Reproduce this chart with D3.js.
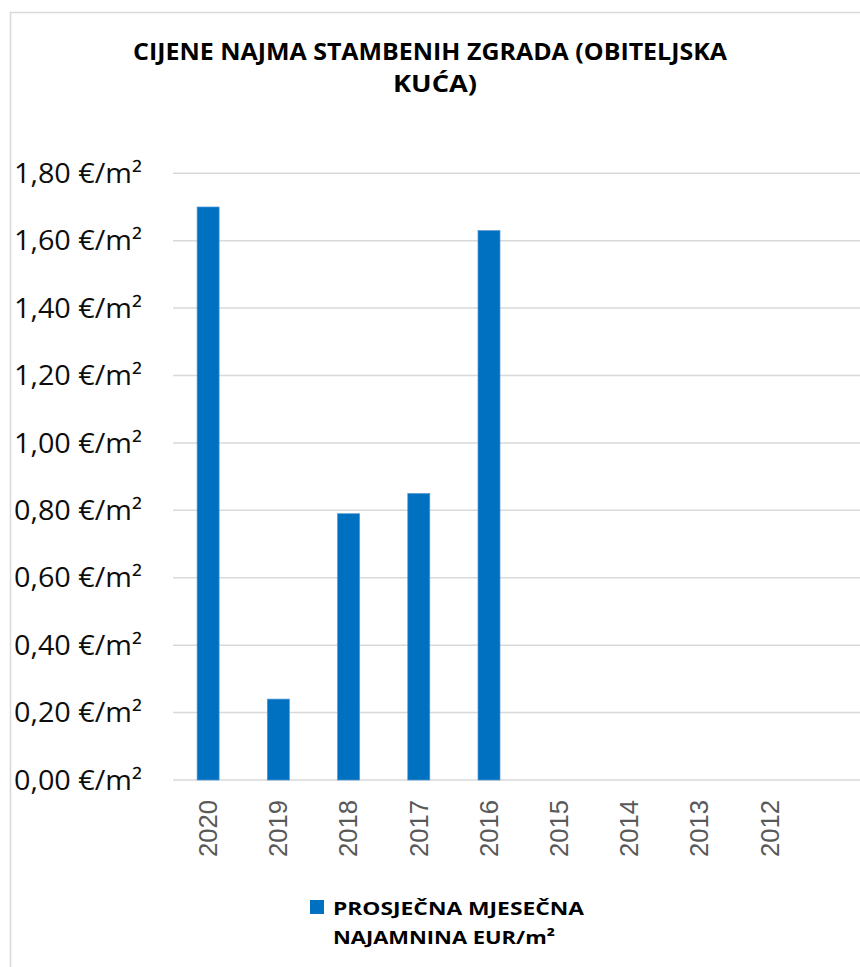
<!DOCTYPE html>
<html>
<head>
<meta charset="utf-8">
<script src="https://cdn.jsdelivr.net/npm/d3@7"></script>
<style>
  html, body { margin: 0; padding: 0; background: #fff; }
  svg { display: block; }
</style>
</head>
<body>
<script>
// ---- data ----
const categories = ["2020", "2019", "2018", "2017", "2016", "2015", "2014", "2013", "2012"];
const values = [1.70, 0.24, 0.79, 0.85, 1.63, null, null, null, null];
const yTicks = [0, 0.2, 0.4, 0.6, 0.8, 1.0, 1.2, 1.4, 1.6, 1.8];
const titleLines = ["CIJENE NAJMA STAMBENIH ZGRADA (OBITELJSKA", "KUĆA)"];
const legendLines = ["PROSJEČNA MJESEČNA", "NAJAMNINA EUR/m²"];

const W = 860, H = 967;
const svg = d3.select("body").append("svg").attr("width", W).attr("height", H);

// chart border
svg.append("rect").attr("x", 10.5).attr("y", 12.5).attr("width", 900).attr("height", 1000)
  .attr("fill", "#fff").attr("stroke", "#d9d9d9").attr("stroke-width", 1.5);

const plotLeft = 173, plotRight = 805, gridRight = 862;
const x = d3.scaleBand().domain(categories).range([plotLeft, plotRight])
  .paddingInner(0.687).paddingOuter(0.3435);
const y = d3.scaleLinear().domain([0, 1.8]).range([780, 173.3]);

const loc = d3.formatLocale({ decimal: ",", thousands: ".", grouping: [3], currency: ["", " €"] });
const fmt = v => loc.format(".2f")(v) + " €/m²";

// gridlines
svg.append("g").selectAll("line").data(yTicks).join("line")
  .attr("x1", plotLeft).attr("x2", gridRight)
  .attr("y1", d => y(d)).attr("y2", d => y(d))
  .attr("stroke", "#d9d9d9").attr("stroke-width", 1.5);

// y labels
svg.append("g").selectAll("text").data(yTicks).join("text")
  .attr("x", 142).attr("y", d => y(d)).attr("dy", "0.36em")
  .attr("text-anchor", "end")
  .attr("font-family", "'Open Sans', sans-serif").attr("font-size", 27)
  .attr("fill", "#0d0d0d")
  .attr("textLength", 128).attr("lengthAdjust", "spacingAndGlyphs")
  .text(d => fmt(d));

// bars
const barData = categories.map((c, i) => ({ c, v: values[i] })).filter(d => d.v != null);
svg.append("g").selectAll("rect").data(barData).join("rect")
  .attr("x", d => x(d.c)).attr("width", x.bandwidth())
  .attr("y", d => y(d.v)).attr("height", d => y(0) - y(d.v))
  .attr("fill", "#0070C0").attr("stroke", "#4d95d3").attr("stroke-width", 0.7);

// x labels (rotated)
svg.append("g").selectAll("text").data(categories).join("text")
  .attr("transform", d => `translate(${x(d) + x.bandwidth() / 2},800) rotate(-90)`)
  .attr("dy", "0.35em")
  .attr("text-anchor", "end")
  .attr("font-family", "'Liberation Sans', Arial, sans-serif").attr("font-size", 25)
  .attr("fill", "#595959")
  .attr("textLength", 57).attr("lengthAdjust", "spacingAndGlyphs")
  .text(d => d);

// title
const title = svg.append("g").attr("font-family", "'Open Sans', sans-serif")
  .attr("font-weight", "bold").attr("font-size", 23.5).attr("fill", "#000");
title.append("text").attr("x", 133).attr("y", 60)
  .attr("textLength", 594).attr("lengthAdjust", "spacingAndGlyphs").text(titleLines[0]);
title.append("text").attr("x", 393).attr("y", 91.7)
  .attr("textLength", 84).attr("lengthAdjust", "spacingAndGlyphs").text(titleLines[1]);

// legend
svg.append("rect").attr("x", 310).attr("y", 900).attr("width", 14).attr("height", 14).attr("fill", "#0070C0");
const leg = svg.append("g").attr("font-family", "'Open Sans', sans-serif")
  .attr("font-weight", "bold").attr("font-size", 18.5).attr("fill", "#000");
leg.append("text").attr("x", 333).attr("y", 915)
  .attr("textLength", 251).attr("lengthAdjust", "spacingAndGlyphs").text(legendLines[0]);
leg.append("text").attr("x", 333).attr("y", 944)
  .attr("textLength", 222).attr("lengthAdjust", "spacingAndGlyphs").text(legendLines[1]);
</script>
</body>
</html>
